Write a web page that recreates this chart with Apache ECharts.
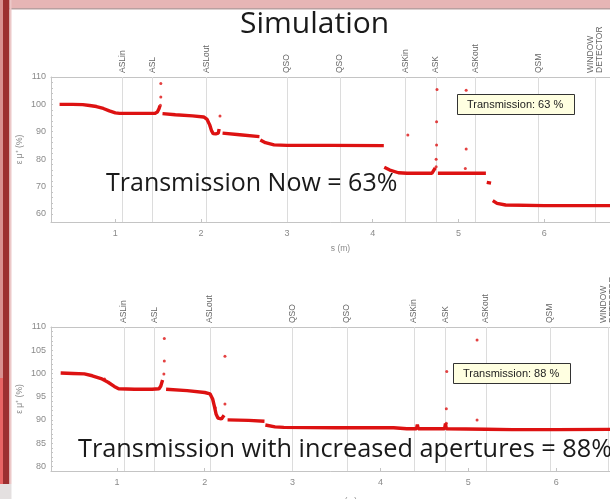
<!DOCTYPE html>
<html>
<head>
<meta charset="utf-8">
<script src="https://cdn.jsdelivr.net/npm/echarts@6/dist/echarts.min.js"></script>
<style>
  html, body { margin: 0; padding: 0; background: #fff; }
  #chart { width: 610px; height: 499px; }
</style>
</head>
<body>
<div id="chart"></div>
<script>
// Beamline elements along s (m)
const elementNames = ['ASLin', 'ASL', 'ASLout', 'QSO', 'QSO', 'ASKin', 'ASK', 'ASKout', 'QSM', 'WINDOW\nDETECTOR'];
const elementPos   = [1.08, 1.43, 2.06, 3.0, 3.62, 4.38, 4.74, 5.2, 5.93, 6.59];

const sTicks = [1, 2, 3, 4, 5, 6];
const yTicksNow  = [60, 70, 80, 90, 100, 110];
const yTicksWide = [80, 85, 90, 95, 100, 105, 110];

// Transmission with present apertures (null = gap between segments)
const nowS = [0.35, 0.5, 0.62, 0.7, 0.78, 0.86, 0.93, 1.0, 1.05, 1.2, 1.35, 1.46, 1.49, 1.51, 1.52, 1.53,
              1.55, 1.7, 1.9, 2.03, 2.07, 2.1, 2.12, 2.14, 2.17, 2.2, 2.21, 2.23,
              2.25, 2.45, 2.68, 2.685,
              2.69, 2.75, 2.85, 3.0, 3.5, 4.13, 4.131,
              4.135, 4.2, 4.3, 4.4, 4.69, 4.71, 4.73, 4.745,
              4.76, 5.1, 5.32, 5.325,
              5.33, 5.38, 5.39,
              5.40, 5.45, 5.55, 6.0, 7.0];
const nowT = [100, 100, 99.9, 99.6, 99.2, 98.5, 97.6, 96.9, 96.7, 96.7, 96.7, 96.7, 97.2, 98.5, 99.5, null,
              96.6, 96.2, 95.8, 95.4, 94.5, 92.5, 90.5, 89.3, 89.2, 89.5, 91.0, null,
              89.5, 88.9, 88.2, null,
              87.0, 86.0, 85.2, 85.0, 85.0, 84.9, null,
              77.0, 76.0, 75.0, 74.8, 74.8, 75.5, 76.8, null,
              74.8, 74.8, 74.8, null,
              71.5, 71.2, null,
              64.8, 63.8, 63.2, 63.0, 63.0];
const nowSpikeS = [1.53, 1.53, 1.525, 2.22, 4.41, 4.75, 4.745, 4.745, 4.74, 4.74, 5.09, 5.09, 5.08];
const nowSpikeT = [107.6, 102.7, 99.7, 95.7, 88.8, 105.4, 93.6, 85.1, 79.9, 77.2, 105.2, 83.7, 76.6];

// Transmission with increased apertures
const wideS = [0.36, 0.5, 0.63, 0.72, 0.82, 0.9, 0.97, 1.02, 1.2, 1.4, 1.48, 1.5, 1.52, 1.53,
               1.56, 1.8, 2.0, 2.06, 2.09, 2.11, 2.13, 2.15, 2.19, 2.21, 2.22, 2.24,
               2.26, 2.5, 2.68, 2.685,
               2.69, 2.8, 2.9, 3.5, 4.15, 4.3, 4.41, 4.42, 4.43, 4.73, 4.74, 4.75, 5.2, 5.5, 6.0, 7.0];
const wideT = [100.1, 100.0, 99.9, 99.5, 98.9, 98.1, 97.2, 96.7, 96.6, 96.6, 96.7, 97.3, 98.6, null,
               96.6, 96.3, 95.9, 95.6, 94.5, 92.9, 91.2, 90.4, 90.2, 90.6, 91.0, null,
               90.0, 89.9, 89.7, null,
               88.9, 88.5, 88.4, 88.3, 88.3, 88.1, 88.1, 89.0, 88.1, 88.1, 89.2, 88.1, 88.0, 87.9, 87.9, 88.0];
const wideSpikeS = [1.54, 1.54, 1.535, 0.86, 2.23, 2.23, 2.12, 4.755, 4.75, 4.75, 5.1, 5.1];
const wideSpikeT = [107.5, 102.7, 99.9, 98.8, 103.7, 93.4, 92.6, 100.4, 92.4, 89.3, 107.2, 90.0];

const nowFinal = 63;
const wideFinal = 88;

const pairs = (xs, ys) => xs.map((x, i) => [x, ys[i]]);

const RED = '#dd1212';
const AXIS = '#c4c4c4';
const LABEL = '#8a8a8a';
const GRID_LINE = '#dcdcdc';
const FONT = 'Liberation Sans, Arial, sans-serif';
const SLIDE_FONT = 'Open Sans, sans-serif';

const grids = [
  { left: 51, right: -20, top: 77, height: 145, containLabel: false, outerBoundsMode: 'none' },
  { left: 51, right: -34, top: 327, height: 144, containLabel: false, outerBoundsMode: 'none' }
];

function bottomAxis(gridIndex, nameGap) {
  return {
    type: 'value', gridIndex, position: 'bottom', min: 0.25, max: 7,
    name: 's (m)', nameLocation: 'middle', nameGap,
    nameTextStyle: { color: LABEL, fontSize: 8.5, fontFamily: FONT },
    axisLine: { lineStyle: { color: AXIS, width: 1 } },
    axisTick: { inside: true, length: 3, customValues: sTicks, lineStyle: { color: AXIS } },
    axisLabel: { customValues: sTicks, color: LABEL, fontSize: 9, fontFamily: FONT, margin: 7 },
    splitLine: { show: false }
  };
}

// Element names along the top edge, with a thin vertical line through the plot at each one
function topAxis(gridIndex, height) {
  return {
    type: 'value', gridIndex, position: 'top', min: 0.25, max: 7,
    axisLine: { lineStyle: { color: AXIS, width: 1 } },
    axisTick: { inside: true, length: height, customValues: elementPos,
                lineStyle: { color: GRID_LINE, width: 1 } },
    axisLabel: {
      customValues: elementPos, rotate: -90, color: '#666', fontSize: 8.5, fontFamily: FONT, margin: 4,
      formatter: v => elementNames[elementPos.indexOf(v)] || ''
    },
    splitLine: { show: false }
  };
}

function yAxis(gridIndex, min, labels, tickStep) {
  const ticks = [];
  for (let v = labels[0]; v <= labels[labels.length - 1] + 1e-9; v += tickStep) ticks.push(v);
  return {
    type: 'value', gridIndex, min, max: 110,
    name: 'ε μ⁺ (%)', nameLocation: 'middle', nameGap: 27, nameRotate: 90, nameMoveOverlap: false,
    nameTextStyle: { color: LABEL, fontSize: 8.5, fontFamily: FONT },
    axisLine: { show: true, lineStyle: { color: AXIS, width: 1 } },
    axisTick: { show: true, inside: true, length: 2, customValues: ticks, lineStyle: { color: AXIS } },
    axisLabel: { customValues: labels, color: LABEL, fontSize: 9, fontFamily: FONT, margin: 5 },
    splitLine: { show: false }
  };
}

function datatip(text, left, top) {
  return {
    text, left, top, padding: [5, 12, 5, 10],
    backgroundColor: '#ffffe1', borderColor: '#333', borderWidth: 1,
    textStyle: { fontSize: 11, fontWeight: 'normal', color: '#222', fontFamily: FONT }
  };
}

const option = {
  animation: false,
  backgroundColor: '#ffffff',
  grid: grids,
  xAxis: [bottomAxis(0, 22), topAxis(0, 145), bottomAxis(1, 26), topAxis(1, 144)],
  yAxis: [yAxis(0, 57, yTicksNow, 2), yAxis(1, 79, yTicksWide, 1)],
  title: [
    { text: 'Simulation', left: 235, top: 4,
      textStyle: { fontSize: 30, fontWeight: 'normal', color: '#1a1a1a', fontFamily: SLIDE_FONT } },
    { text: 'Transmission Now = ' + nowFinal + '%', left: 101, top: 166,
      textStyle: { fontSize: 25, fontWeight: 'normal', color: '#1a1a1a', fontFamily: SLIDE_FONT } },
    { text: 'Transmission with increased apertures = ' + wideFinal + '%', left: 73, top: 432,
      textStyle: { fontSize: 25.3, fontWeight: 'normal', color: '#1a1a1a', fontFamily: SLIDE_FONT } },
    datatip('Transmission: ' + nowFinal + ' %', 457, 94),
    datatip('Transmission: ' + wideFinal + ' %', 453, 363)
  ],
  graphic: [
    { type: 'rect', shape: { x: 0, y: 0, width: 610, height: 8 }, style: { fill: '#e6b5b5' }, z: 10 },
    { type: 'rect', shape: { x: 0, y: 8, width: 610, height: 1.5 }, style: { fill: '#b8a0a0' }, z: 10 },
    { type: 'rect', shape: { x: 0, y: 0, width: 3, height: 378 }, style: { fill: '#d99090' }, z: 11 },
    { type: 'rect', shape: { x: 0, y: 378, width: 3, height: 106 }, style: { fill: '#e86464' }, z: 11 },
    { type: 'rect', shape: { x: 3, y: 0, width: 6.5, height: 484 }, style: { fill: '#9c2f30' }, z: 11 },
    { type: 'rect', shape: { x: 9.5, y: 0, width: 2, height: 484 }, style: { fill: '#ecc8c8' }, z: 11 },
    { type: 'rect', shape: { x: 0, y: 484, width: 11.5, height: 15 }, style: { fill: '#e4e0e0' }, z: 11 }
  ],
  series: [
    { type: 'line', xAxisIndex: 0, yAxisIndex: 0, data: pairs(nowS, nowT), showSymbol: false,
      connectNulls: false, lineStyle: { color: RED, width: 3.4 }, z: 3 },
    { type: 'scatter', xAxisIndex: 0, yAxisIndex: 0, data: pairs(nowSpikeS, nowSpikeT),
      symbolSize: 3, itemStyle: { color: RED }, z: 3 },
    { type: 'line', xAxisIndex: 2, yAxisIndex: 1, data: pairs(wideS, wideT), showSymbol: false,
      connectNulls: false, lineStyle: { color: RED, width: 3.4 }, z: 3 },
    { type: 'scatter', xAxisIndex: 2, yAxisIndex: 1, data: pairs(wideSpikeS, wideSpikeT),
      symbolSize: 3, itemStyle: { color: RED }, z: 3 }
  ]
};

const chart = echarts.init(document.getElementById('chart'), null, { renderer: 'canvas' });
chart.setOption(option);
</script>
</body>
</html>
